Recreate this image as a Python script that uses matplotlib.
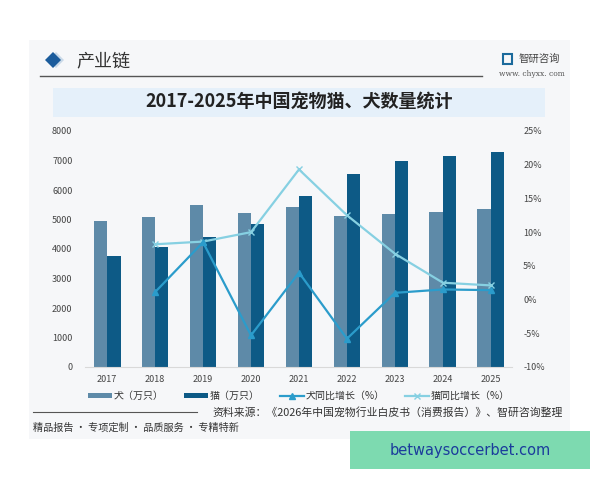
import matplotlib
matplotlib.use("Agg")
import matplotlib.pyplot as plt
from matplotlib.patches import Rectangle, Polygon
from matplotlib.lines import Line2D
import numpy as np

plt.rcParams['font.family'] = ['Noto Sans CJK SC', 'DejaVu Sans']

years = ["2017", "2018", "2019", "2020", "2021", "2022", "2023", "2024", "2025"]
dogs = [4946, 5085, 5503, 5222, 5429, 5119, 5175, 5258, 5345]
cats = [3756, 4064, 4412, 4862, 5806, 6536, 6980, 7153, 7274]
dog_growth = [None, 1.1, 8.5, -5.3, 4.0, -5.8, 1.0, 1.5, 1.4]
cat_growth = [None, 8.2, 8.6, 10.0, 19.3, 12.5, 6.8, 2.5, 2.1]

C_DOG = "#5e8aa8"
C_CAT = "#0d5a86"
C_DOGG = "#2b9ccb"
C_CATG = "#86d0e2"

fig = plt.figure(figsize=(6, 4.8), dpi=100)
W, H = 600, 480

def fx(px):
    return px / W

def fy(py):
    return 1 - py / H

# panel background
fig.patches.append(Rectangle((fx(29), fy(439)), fx(541), 399 / H, transform=fig.transFigure,
                             facecolor="#f6f7f9", edgecolor="none", zorder=-2))
# header
fig.patches.append(Polygon([(fx(56), fy(52)), (fx(64), fy(60)), (fx(56), fy(68)), (fx(48), fy(60))],
                           closed=True, transform=fig.transFigure, facecolor="#c9d9e8", zorder=1))
fig.patches.append(Polygon([(fx(53), fy(52)), (fx(61), fy(60)), (fx(53), fy(68)), (fx(45), fy(60))],
                           closed=True, transform=fig.transFigure, facecolor="#1b5c9c", zorder=2))
fig.text(fx(76), fy(61), "产业链", fontsize=13, color="#333333", va="center", ha="left")
fig.add_artist(Line2D([fx(40), fx(482)], [fy(76), fy(76)], transform=fig.transFigure,
                      color="#555555", lw=1.0))
fig.text(fx(519), fy(59), "智研咨询", fontsize=7.5, color="#444444", va="center", ha="left")
fig.patches.append(Rectangle((fx(503), fy(64)), fx(9), 10 / H, transform=fig.transFigure,
                             facecolor="none", edgecolor="#1b6a9c", lw=1.5))
fig.text(fx(532), fy(74), "www. chyxx. com", fontsize=5.5, color="#555555", va="center", ha="center",
         family="DejaVu Serif")

# title box
fig.patches.append(Rectangle((fx(53), fy(117)), fx(492), 29 / H, transform=fig.transFigure,
                             facecolor="#e5f0fa", edgecolor="none", zorder=1))
fig.text(fx(299), fy(102), "2017-2025年中国宠物猫、犬数量统计", fontsize=13, fontweight="bold",
         color="#222222", ha="center", va="center")

ax = fig.add_axes([fx(85), fy(367), fx(427), 236 / H], zorder=3)
ax.set_facecolor("none")
x = np.arange(len(years))
bw = 0.28
ax.bar(x - bw / 2, dogs, bw, color=C_DOG, label="犬（万只）", zorder=2)
ax.bar(x + bw / 2, cats, bw, color=C_CAT, label="猫（万只）", zorder=2)
ax.set_ylim(0, 8000)
ax.set_xlim(-0.46, 8.44)
ax.set_yticks(range(0, 8001, 1000))
ax.set_xticks(x)
ax.set_xticklabels(years)
for s in ["top", "right", "left"]:
    ax.spines[s].set_visible(False)
ax.spines["bottom"].set_color("#d9d9d9")
ax.tick_params(axis="both", length=0, labelsize=6.5, colors="#444444")
ax.tick_params(axis="y", pad=9)
ax.tick_params(axis="x", pad=6)

ax2 = ax.twinx()
ax2.set_zorder(4)
ax2.set_facecolor("none")
xs = x[1:]
ax2.plot(xs, cat_growth[1:], color=C_CATG, lw=1.6, marker="x", ms=5, mew=1.0,
         label="猫同比增长（%）", zorder=3)
ax2.plot(xs, dog_growth[1:], color=C_DOGG, lw=1.6, marker="^", ms=4,
         label="犬同比增长（%）", zorder=4)
ax2.set_ylim(-10, 25)
ax2.set_yticks(range(-10, 26, 5))
ax2.set_yticklabels([f"{v}%" for v in range(-10, 26, 5)])
for s in ax2.spines.values():
    s.set_visible(False)
ax2.tick_params(axis="y", length=0, labelsize=6.5, colors="#444444", pad=8)

h1, l1 = ax.get_legend_handles_labels()
h2, l2 = ax2.get_legend_handles_labels()
handles = h1 + [h2[1], h2[0]]
labels = l1 + [l2[1], l2[0]]
fig.legend(handles, labels, loc="center", bbox_to_anchor=(fx(299), fy(396)), ncol=4,
           frameon=False, fontsize=7.2, handlelength=2.4, handleheight=0.5, columnspacing=2.0,
           handletextpad=0.2, labelcolor="#333333")

fig.add_artist(Line2D([fx(33), fx(197)], [fy(412), fy(412)], transform=fig.transFigure,
                      color="#555555", lw=0.8))
fig.text(fx(212), fy(413), "资料来源：《2026年中国宠物行业白皮书（消费报告）》、智研咨询整理",
         fontsize=7.8, color="#333333", ha="left", va="center")
fig.text(fx(33), fy(428), "精品报告 · 专项定制 · 品质服务 · 专精特新", fontsize=7.3,
         color="#333333", ha="left", va="center")

fig.patches.append(Rectangle((fx(350), fy(469)), fx(240), 38 / H, transform=fig.transFigure,
                             facecolor="#7ddab0", edgecolor="none", zorder=5))
fig.text(fx(470), fy(450), "betwaysoccerbet.com", fontsize=10.5, color="#1b3c9c",
         ha="center", va="center", zorder=6, family="DejaVu Sans")

fig.savefig("out.png", dpi=100)
